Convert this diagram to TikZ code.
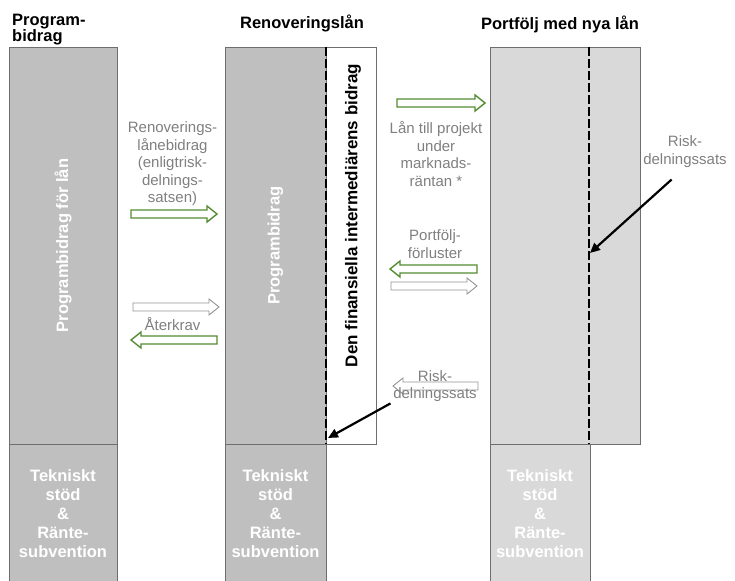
\documentclass[tikz,border=0pt]{standalone}
\usepackage{fontspec}
\setmainfont{Liberation Sans}
\usetikzlibrary{arrows.meta}

\definecolor{boxgray}{RGB}{191,191,191}
\definecolor{lightbox}{RGB}{217,217,217}
\definecolor{edgegray}{RGB}{110,110,110}
\definecolor{labelgray}{RGB}{128,128,128}
\definecolor{arrgreen}{RGB}{84,140,50}
\definecolor{arrgray}{RGB}{150,150,150}

% flat block arrow: style, tail x, tip x, y
\newcommand{\BlockArr}[4]{%
  \pgfmathsetmacro{\hb}{#3-10*sign(#3-#2)}
  \draw[#1] (#2,#4-4) -- (\hb,#4-4) -- (\hb,#4-8) -- (#3,#4) -- (\hb,#4+8) -- (\hb,#4+4) -- (#2,#4+4) -- cycle;}

\tikzset{
  colbox/.style={draw=edgegray, line width=0.8pt, inner sep=0pt, outer sep=0pt},
  boxlabel/.style={text=white, align=center, font=\bfseries\fontsize{16.5}{19}\selectfont},
  steplabel/.style={text=labelgray, align=center, inner sep=0pt, font=\fontsize{15}{17.5}\selectfont},
  header/.style={inner sep=0pt, font=\bfseries\fontsize{16.5}{16.5}\selectfont},
  greenarrow/.style={draw=arrgreen, line width=1.4pt, fill=white},
  grayarrow/.style={draw=arrgray, line width=0.9pt, fill=white},
  dashline/.style={line width=2.2pt, dash pattern=on 9pt off 3pt},
  pointer/.style={line width=2.2pt, -{Triangle[length=10pt,width=9pt]}}
}

\begin{document}
\begin{tikzpicture}[x=1pt,y=-1pt]
  \useasboundingbox[fill=white] (0,0) rectangle (735,580);

  % headers
  \node[header, align=left, anchor=north west] (hprog) at (12,13.5) {Program-\\bidrag};
  \node[header, anchor=base] (hrenov) at (302,29) {Renoveringslån};
  \node[header, anchor=base] (hport) at (560,30) {Portfölj med nya lån};

  % column 1
  \node[colbox, fill=boxgray, boxlabel, rotate=90, minimum width=397pt, minimum height=108pt] (progtop) at (63,245.5) {Programbidrag för lån};
  \node[colbox, fill=boxgray, boxlabel, minimum width=108pt, minimum height=140pt] (progbot) at (63,514) {Tekniskt\\stöd\\\&\\Ränte-\\subvention};

  % column 2
  \node[colbox, fill=boxgray, boxlabel, rotate=90, minimum width=397pt, minimum height=101pt] (renovtop) at (275.5,245.5) {Programbidrag};
  \node[colbox, fill=white, rotate=90, minimum width=397pt, minimum height=50pt] (strip) at (351,245.5) {};
  \node[rotate=90, font=\bfseries\fontsize{17}{17}\selectfont] (interm) at (353,215.5) {Den finansiella intermediärens bidrag};
  \node[colbox, fill=boxgray, boxlabel, minimum width=101pt, minimum height=140pt] (renovbot) at (275.5,514) {Tekniskt\\stöd\\\&\\Ränte-\\subvention};
  \coordinate (dashAtop) at (326,47);
  \coordinate (dashAbot) at (326,444);
  \draw[dashline] (dashAtop) -- (dashAbot);

  % column 3
  \node[colbox, fill=lightbox, minimum width=150pt, minimum height=397pt] (porttop) at (565,245.5) {};
  \node[colbox, fill=lightbox, boxlabel, minimum width=100pt, minimum height=140pt] (portbot) at (540,514) {Tekniskt\\stöd\\\&\\Ränte-\\subvention};
  \coordinate (dashBtop) at (589,47);
  \coordinate (dashBbot) at (589,444);
  \draw[dashline] (dashBtop) -- (dashBbot);

  % flows between columns 1 and 2
  \node[steplabel] (lblbidrag) at (172.5,164) {Renoverings-\\lånebidrag\\(enligtrisk-\\delnings-\\satsen)};
  \BlockArr{greenarrow}{131}{217}{214}
  \BlockArr{grayarrow}{133}{219}{307}
  \node[steplabel, anchor=base] (lblaterkrav) at (172.5,330) {Återkrav};
  \BlockArr{greenarrow}{217}{131}{340}

  % flows between columns 2 and 3
  \BlockArr{greenarrow}{397}{485}{103}
  \node[steplabel] (lbllan) at (436,154) {Lån till projekt\\under\\marknads-\\räntan *};
  \node[steplabel] (lblforlust) at (435,244) {Portfölj-\\förluster};
  \BlockArr{greenarrow}{477}{390}{269}
  \BlockArr{grayarrow}{391}{477}{286}
  \BlockArr{grayarrow}{478}{393}{386}
  \node[steplabel] (riskM) at (435,386) {Risk-\\delningssats};
  \node[steplabel] (riskR) at (685,151.5) {Risk-\\delningssats};

  % pointers to the risk-sharing lines
  \coordinate (hitM) at (328,438);
  \coordinate (hitR) at (590,253);
  \draw[pointer, shorten <=3pt] (riskM.south west) -- (hitM);
  \draw[pointer, shorten <=18pt] (riskR.south) -- (hitR);
\end{tikzpicture}
\end{document}
